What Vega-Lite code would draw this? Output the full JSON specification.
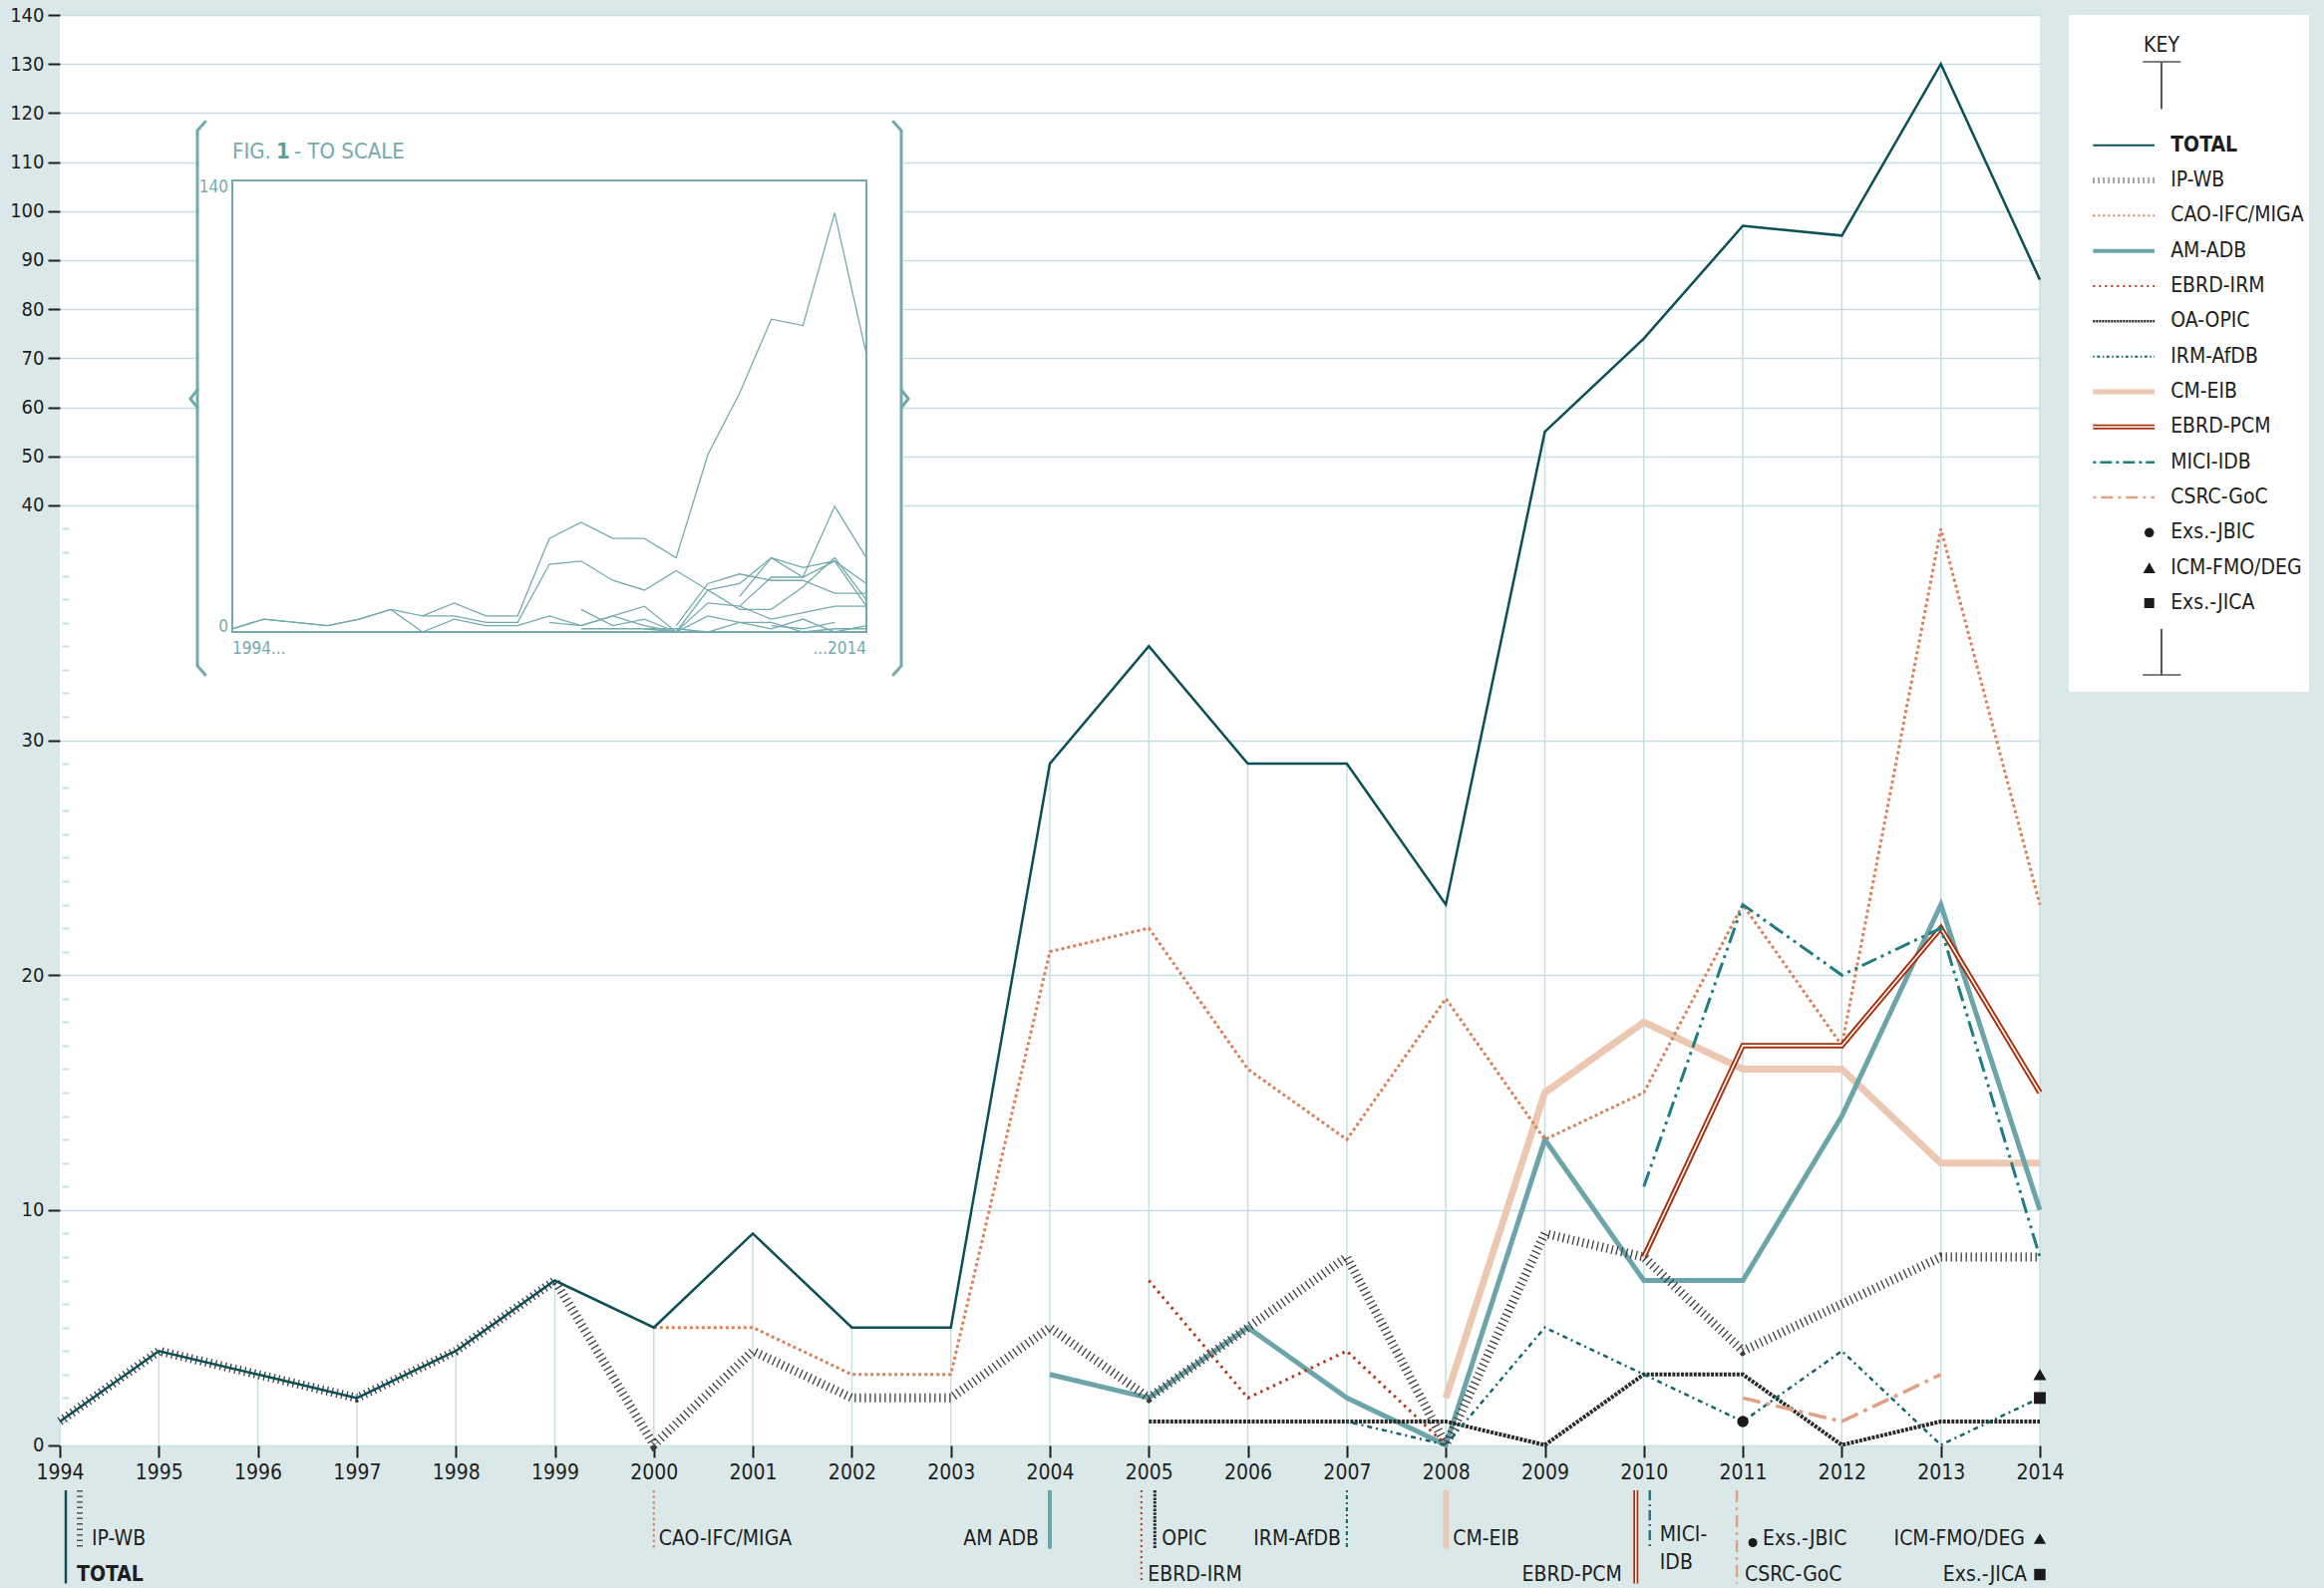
{
  "$schema": "https://vega.github.io/schema/vega-lite/v6.json",
  "width": 1986,
  "height": 1435,
  "autosize": {"type": "none"},
  "padding": {"left": 60, "top": 15, "right": 285, "bottom": 143},
  "background": "#dbe8e9",
  "config": {
    "view": {"fill": "white", "stroke": null},
    "text": {"font": "Liberation Sans Narrow, DejaVu Sans Condensed, Roboto, sans-serif", "color": "#1e1e1e"},
    "axis": {"labelFont": "Liberation Sans Narrow, DejaVu Sans Condensed, Roboto, sans-serif"}
  },
  "data": {"values": [
    {"series": "TOTAL", "year": 1994, "value": 1}, {"series": "TOTAL", "year": 1995, "value": 4}, {"series": "TOTAL", "year": 1996, "value": 3},
    {"series": "TOTAL", "year": 1997, "value": 2}, {"series": "TOTAL", "year": 1998, "value": 4}, {"series": "TOTAL", "year": 1999, "value": 7},
    {"series": "TOTAL", "year": 2000, "value": 5}, {"series": "TOTAL", "year": 2001, "value": 9}, {"series": "TOTAL", "year": 2002, "value": 5},
    {"series": "TOTAL", "year": 2003, "value": 5}, {"series": "TOTAL", "year": 2004, "value": 29}, {"series": "TOTAL", "year": 2005, "value": 34},
    {"series": "TOTAL", "year": 2006, "value": 29}, {"series": "TOTAL", "year": 2007, "value": 29}, {"series": "TOTAL", "year": 2008, "value": 23},
    {"series": "TOTAL", "year": 2009, "value": 55}, {"series": "TOTAL", "year": 2010, "value": 74}, {"series": "TOTAL", "year": 2011, "value": 97},
    {"series": "TOTAL", "year": 2012, "value": 95}, {"series": "TOTAL", "year": 2013, "value": 130}, {"series": "TOTAL", "year": 2014, "value": 86},
    {"series": "IP-WB", "year": 1994, "value": 1}, {"series": "IP-WB", "year": 1995, "value": 4}, {"series": "IP-WB", "year": 1996, "value": 3},
    {"series": "IP-WB", "year": 1997, "value": 2}, {"series": "IP-WB", "year": 1998, "value": 4}, {"series": "IP-WB", "year": 1999, "value": 7},
    {"series": "IP-WB", "year": 2000, "value": 0}, {"series": "IP-WB", "year": 2001, "value": 4}, {"series": "IP-WB", "year": 2002, "value": 2},
    {"series": "IP-WB", "year": 2003, "value": 2}, {"series": "IP-WB", "year": 2004, "value": 5}, {"series": "IP-WB", "year": 2005, "value": 2},
    {"series": "IP-WB", "year": 2006, "value": 5}, {"series": "IP-WB", "year": 2007, "value": 8}, {"series": "IP-WB", "year": 2008, "value": 0},
    {"series": "IP-WB", "year": 2009, "value": 9}, {"series": "IP-WB", "year": 2010, "value": 8}, {"series": "IP-WB", "year": 2011, "value": 4},
    {"series": "IP-WB", "year": 2012, "value": 6}, {"series": "IP-WB", "year": 2013, "value": 8}, {"series": "IP-WB", "year": 2014, "value": 8},
    {"series": "CAO-IFC/MIGA", "year": 2000, "value": 5}, {"series": "CAO-IFC/MIGA", "year": 2001, "value": 5}, {"series": "CAO-IFC/MIGA", "year": 2002, "value": 3},
    {"series": "CAO-IFC/MIGA", "year": 2003, "value": 3}, {"series": "CAO-IFC/MIGA", "year": 2004, "value": 21}, {"series": "CAO-IFC/MIGA", "year": 2005, "value": 22},
    {"series": "CAO-IFC/MIGA", "year": 2006, "value": 16}, {"series": "CAO-IFC/MIGA", "year": 2007, "value": 13}, {"series": "CAO-IFC/MIGA", "year": 2008, "value": 19},
    {"series": "CAO-IFC/MIGA", "year": 2009, "value": 13}, {"series": "CAO-IFC/MIGA", "year": 2010, "value": 15}, {"series": "CAO-IFC/MIGA", "year": 2011, "value": 23},
    {"series": "CAO-IFC/MIGA", "year": 2012, "value": 17}, {"series": "CAO-IFC/MIGA", "year": 2013, "value": 39}, {"series": "CAO-IFC/MIGA", "year": 2014, "value": 23},
    {"series": "AM-ADB", "year": 2004, "value": 3}, {"series": "AM-ADB", "year": 2005, "value": 2}, {"series": "AM-ADB", "year": 2006, "value": 5},
    {"series": "AM-ADB", "year": 2007, "value": 2}, {"series": "AM-ADB", "year": 2008, "value": 0}, {"series": "AM-ADB", "year": 2009, "value": 13},
    {"series": "AM-ADB", "year": 2010, "value": 7}, {"series": "AM-ADB", "year": 2011, "value": 7}, {"series": "AM-ADB", "year": 2012, "value": 14},
    {"series": "AM-ADB", "year": 2013, "value": 23}, {"series": "AM-ADB", "year": 2014, "value": 10},
    {"series": "EBRD-IRM", "year": 2005, "value": 7}, {"series": "EBRD-IRM", "year": 2006, "value": 2}, {"series": "EBRD-IRM", "year": 2007, "value": 4},
    {"series": "EBRD-IRM", "year": 2008, "value": 0},
    {"series": "OA-OPIC", "year": 2005, "value": 1}, {"series": "OA-OPIC", "year": 2006, "value": 1}, {"series": "OA-OPIC", "year": 2007, "value": 1},
    {"series": "OA-OPIC", "year": 2008, "value": 1}, {"series": "OA-OPIC", "year": 2009, "value": 0}, {"series": "OA-OPIC", "year": 2010, "value": 3},
    {"series": "OA-OPIC", "year": 2011, "value": 3}, {"series": "OA-OPIC", "year": 2012, "value": 0}, {"series": "OA-OPIC", "year": 2013, "value": 1},
    {"series": "OA-OPIC", "year": 2014, "value": 1},
    {"series": "IRM-AfDB", "year": 2007, "value": 1}, {"series": "IRM-AfDB", "year": 2008, "value": 0}, {"series": "IRM-AfDB", "year": 2009, "value": 5},
    {"series": "IRM-AfDB", "year": 2010, "value": 3}, {"series": "IRM-AfDB", "year": 2011, "value": 1}, {"series": "IRM-AfDB", "year": 2012, "value": 4},
    {"series": "IRM-AfDB", "year": 2013, "value": 0}, {"series": "IRM-AfDB", "year": 2014, "value": 2},
    {"series": "CM-EIB", "year": 2008, "value": 2}, {"series": "CM-EIB", "year": 2009, "value": 15}, {"series": "CM-EIB", "year": 2010, "value": 18},
    {"series": "CM-EIB", "year": 2011, "value": 16}, {"series": "CM-EIB", "year": 2012, "value": 16}, {"series": "CM-EIB", "year": 2013, "value": 12},
    {"series": "CM-EIB", "year": 2014, "value": 12},
    {"series": "EBRD-PCM", "year": 2010, "value": 8}, {"series": "EBRD-PCM", "year": 2011, "value": 17}, {"series": "EBRD-PCM", "year": 2012, "value": 17},
    {"series": "EBRD-PCM", "year": 2013, "value": 22}, {"series": "EBRD-PCM", "year": 2014, "value": 15},
    {"series": "MICI-IDB", "year": 2010, "value": 11}, {"series": "MICI-IDB", "year": 2011, "value": 23}, {"series": "MICI-IDB", "year": 2012, "value": 20},
    {"series": "MICI-IDB", "year": 2013, "value": 22}, {"series": "MICI-IDB", "year": 2014, "value": 8},
    {"series": "CSRC-GoC", "year": 2011, "value": 2}, {"series": "CSRC-GoC", "year": 2012, "value": 1}, {"series": "CSRC-GoC", "year": 2013, "value": 3},
    {"series": "Exs.-JBIC", "year": 2011, "value": 1},
    {"series": "ICM-FMO/DEG", "year": 2014, "value": 3},
    {"series": "Exs.-JICA", "year": 2014, "value": 2}
  ]},
  "resolve": {"scale": {"x": "independent", "y": "independent"}},
  "layer": [
    {
      "encoding": {
        "x": {"field": "year", "type": "quantitative",
          "scale": {"domain": [1994, 2014], "nice": false, "zero": false},
          "axis": {"orient": "bottom", "values": [1994,1995,1996,1997,1998,1999,2000,2001,2002,2003,2004,2005,2006,2007,2008,2009,2010,2011,2012,2013,2014],
            "format": "d", "title": null, "domain": false, "grid": false, "tickSize": 12, "tickWidth": 2, "tickColor": "#1e1e1e",
            "labelFontSize": 21, "labelColor": "#1e1e1e", "labelPadding": 4, "labelFlush": false, "labelOverlap": false}},
        "y": {"field": "value", "type": "quantitative",
          "scale": {"domain": [0, 40, 140], "range": [1434.5, 491.9, 0], "nice": false, "zero": false},
          "axis": {"orient": "left", "values": [0,10,20,30,40,50,60,70,80,90,100,110,120,130,140], "title": null, "domain": false,
            "grid": true, "gridColor": "#c7dfe2", "gridWidth": 1.5, "tickSize": 12, "tickWidth": 2, "tickColor": "#1e1e1e",
            "labelFontSize": 20, "labelColor": "#1e1e1e", "labelPadding": 4, "labelOverlap": false}}
      },
      "layer": [
        {"transform": [{"filter": "datum.series==='TOTAL'"}], "mark": {"type": "rule", "color": "#c7dfe2", "strokeWidth": 1.5},
         "encoding": {"y": {"datum": 0}, "y2": {"field": "value"}}},
        {"transform": [{"filter": "datum.series==='CM-EIB'"}], "mark": {"type": "line", "color": "#ecc8b2", "strokeWidth": 7}, "encoding": {}},
        {"transform": [{"filter": "datum.series==='AM-ADB'"}], "mark": {"type": "line", "color": "#6ba4a9", "strokeWidth": 5}, "encoding": {}},
        {"transform": [{"filter": "datum.series==='IP-WB'"}], "mark": {"type": "line", "color": "#3d3d3d", "strokeWidth": 9, "strokeDash": [1.3, 3.7]}, "encoding": {}},
        {"transform": [{"filter": "datum.series==='CAO-IFC/MIGA'"}], "mark": {"type": "line", "color": "#d9825a", "strokeWidth": 3, "strokeDash": [3, 3]}, "encoding": {}},
        {"transform": [{"filter": "datum.series==='EBRD-IRM'"}], "mark": {"type": "line", "color": "#b0381a", "strokeWidth": 3, "strokeDash": [2.5, 4.5]}, "encoding": {}},
        {"transform": [{"filter": "datum.series==='OA-OPIC'"}], "mark": {"type": "line", "color": "#2a2a2a", "strokeWidth": 4, "strokeDash": [3, 1.3]}, "encoding": {}},
        {"transform": [{"filter": "datum.series==='IRM-AfDB'"}], "mark": {"type": "line", "color": "#11646a", "strokeWidth": 2.5, "strokeDash": [2, 4, 5, 4]}, "encoding": {}},
        {"transform": [{"filter": "datum.series==='EBRD-PCM'"}], "mark": {"type": "line", "color": "#a8320f", "strokeWidth": 5.5}, "encoding": {}},
        {"transform": [{"filter": "datum.series==='EBRD-PCM'"}], "mark": {"type": "line", "color": "#ffffff", "strokeWidth": 1.6}, "encoding": {}},
        {"transform": [{"filter": "datum.series==='MICI-IDB'"}], "mark": {"type": "line", "color": "#1f7c80", "strokeWidth": 3, "strokeDash": [16, 5, 3, 5, 3, 5]}, "encoding": {}},
        {"transform": [{"filter": "datum.series==='CSRC-GoC'"}], "mark": {"type": "line", "color": "#e0a284", "strokeWidth": 3.5, "strokeDash": [18, 6, 4, 6]}, "encoding": {}},
        {"transform": [{"filter": "datum.series==='TOTAL'"}], "mark": {"type": "line", "color": "#0b4f57", "strokeWidth": 2.5}, "encoding": {}},
        {"transform": [{"filter": "datum.series==='Exs.-JBIC'"}], "mark": {"type": "point", "shape": "circle", "filled": true, "opacity": 1, "color": "#1a1a1a", "size": 130}},
        {"transform": [{"filter": "datum.series==='ICM-FMO/DEG'"}], "mark": {"type": "point", "shape": "triangle-up", "filled": true, "opacity": 1, "color": "#1a1a1a", "size": 170}},
        {"transform": [{"filter": "datum.series==='Exs.-JICA'"}], "mark": {"type": "point", "shape": "square", "filled": true, "opacity": 1, "color": "#1a1a1a", "size": 140}},

        {"transform": [{"filter": "datum.series==='TOTAL' && datum.year===1994"}], "mark": {"type": "rule", "color": "#0b4f57", "strokeWidth": 2.5, "xOffset": 6, "yOffset": 45.5, "y2Offset": 139}, "encoding": {"y": {"datum": 0}, "y2": {"datum": 0}}},
        {"transform": [{"filter": "datum.series==='IP-WB' && datum.year===1994"}], "mark": {"type": "rule", "color": "#555555", "strokeWidth": 6, "strokeDash": [1.5, 4], "xOffset": 20, "yOffset": 45.5, "y2Offset": 104}, "encoding": {"y": {"datum": 0}, "y2": {"datum": 0}}},
        {"transform": [{"filter": "datum.series==='CAO-IFC/MIGA' && datum.year===2000"}], "mark": {"type": "rule", "color": "#d9825a", "strokeWidth": 2, "strokeDash": [2.5, 3], "xOffset": 0, "yOffset": 45.5, "y2Offset": 104}, "encoding": {"y": {"datum": 0}, "y2": {"datum": 0}}},
        {"transform": [{"filter": "datum.series==='AM-ADB' && datum.year===2004"}], "mark": {"type": "rule", "color": "#6ba4a9", "strokeWidth": 4, "xOffset": 0, "yOffset": 45.5, "y2Offset": 104}, "encoding": {"y": {"datum": 0}, "y2": {"datum": 0}}},
        {"transform": [{"filter": "datum.series==='EBRD-IRM' && datum.year===2005"}], "mark": {"type": "rule", "color": "#b0381a", "strokeWidth": 2, "strokeDash": [2, 3.5], "xOffset": -7.5, "yOffset": 45.5, "y2Offset": 139}, "encoding": {"y": {"datum": 0}, "y2": {"datum": 0}}},
        {"transform": [{"filter": "datum.series==='OA-OPIC' && datum.year===2005"}], "mark": {"type": "rule", "color": "#2a2a2a", "strokeWidth": 3, "strokeDash": [2.5, 1.2], "xOffset": 6, "yOffset": 45.5, "y2Offset": 104}, "encoding": {"y": {"datum": 0}, "y2": {"datum": 0}}},
        {"transform": [{"filter": "datum.series==='IRM-AfDB' && datum.year===2007"}], "mark": {"type": "rule", "color": "#11646a", "strokeWidth": 2, "strokeDash": [2, 3, 4, 3], "xOffset": 0, "yOffset": 45.5, "y2Offset": 104}, "encoding": {"y": {"datum": 0}, "y2": {"datum": 0}}},
        {"transform": [{"filter": "datum.series==='CM-EIB' && datum.year===2008"}], "mark": {"type": "rule", "color": "#ecc8b2", "strokeWidth": 6, "xOffset": 0, "yOffset": 45.5, "y2Offset": 104}, "encoding": {"y": {"datum": 0}, "y2": {"datum": 0}}},
        {"transform": [{"filter": "datum.series==='EBRD-PCM' && datum.year===2010"}], "mark": {"type": "rule", "color": "#a8320f", "strokeWidth": 5, "xOffset": -8, "yOffset": 45.5, "y2Offset": 139}, "encoding": {"y": {"datum": 0}, "y2": {"datum": 0}}},
        {"transform": [{"filter": "datum.series==='EBRD-PCM' && datum.year===2010"}], "mark": {"type": "rule", "color": "#ffffff", "strokeWidth": 1.5, "xOffset": -8, "yOffset": 45.5, "y2Offset": 139}, "encoding": {"y": {"datum": 0}, "y2": {"datum": 0}}},
        {"transform": [{"filter": "datum.series==='MICI-IDB' && datum.year===2010"}], "mark": {"type": "rule", "color": "#1f7c80", "strokeWidth": 2.5, "strokeDash": [10, 4, 2, 4], "xOffset": 6, "yOffset": 45.5, "y2Offset": 104}, "encoding": {"y": {"datum": 0}, "y2": {"datum": 0}}},
        {"transform": [{"filter": "datum.series==='CSRC-GoC' && datum.year===2011"}], "mark": {"type": "rule", "color": "#e0a284", "strokeWidth": 2.5, "strokeDash": [12, 5, 3, 5], "xOffset": -6, "yOffset": 45.5, "y2Offset": 139}, "encoding": {"y": {"datum": 0}, "y2": {"datum": 0}}},

        {"transform": [{"filter": "datum.series==='IP-WB' && datum.year===1994"}], "mark": {"type": "text", "text": "IP-WB", "align": "left", "baseline": "middle", "fontSize": 21, "xOffset": 32, "yOffset": 94.5}, "encoding": {"y": {"datum": 0}}},
        {"transform": [{"filter": "datum.series==='TOTAL' && datum.year===1994"}], "mark": {"type": "text", "text": "TOTAL", "align": "left", "baseline": "middle", "fontSize": 21, "fontWeight": "bold", "xOffset": 17, "yOffset": 130.5}, "encoding": {"y": {"datum": 0}}},
        {"transform": [{"filter": "datum.series==='CAO-IFC/MIGA' && datum.year===2000"}], "mark": {"type": "text", "text": "CAO-IFC/MIGA", "align": "left", "baseline": "middle", "fontSize": 21, "xOffset": 5, "yOffset": 94.5}, "encoding": {"y": {"datum": 0}}},
        {"transform": [{"filter": "datum.series==='AM-ADB' && datum.year===2004"}], "mark": {"type": "text", "text": "AM ADB", "align": "right", "baseline": "middle", "fontSize": 21, "xOffset": -11, "yOffset": 94.5}, "encoding": {"y": {"datum": 0}}},
        {"transform": [{"filter": "datum.series==='OA-OPIC' && datum.year===2005"}], "mark": {"type": "text", "text": "OPIC", "align": "left", "baseline": "middle", "fontSize": 21, "xOffset": 13, "yOffset": 94.5}, "encoding": {"y": {"datum": 0}}},
        {"transform": [{"filter": "datum.series==='EBRD-IRM' && datum.year===2005"}], "mark": {"type": "text", "text": "EBRD-IRM", "align": "left", "baseline": "middle", "fontSize": 21, "xOffset": -1, "yOffset": 130.5}, "encoding": {"y": {"datum": 0}}},
        {"transform": [{"filter": "datum.series==='IRM-AfDB' && datum.year===2007"}], "mark": {"type": "text", "text": "IRM-AfDB", "align": "right", "baseline": "middle", "fontSize": 21, "xOffset": -6, "yOffset": 94.5}, "encoding": {"y": {"datum": 0}}},
        {"transform": [{"filter": "datum.series==='CM-EIB' && datum.year===2008"}], "mark": {"type": "text", "text": "CM-EIB", "align": "left", "baseline": "middle", "fontSize": 21, "xOffset": 7, "yOffset": 94.5}, "encoding": {"y": {"datum": 0}}},
        {"transform": [{"filter": "datum.series==='EBRD-PCM' && datum.year===2010"}], "mark": {"type": "text", "text": "EBRD-PCM", "align": "right", "baseline": "middle", "fontSize": 21, "xOffset": -22, "yOffset": 130.5}, "encoding": {"y": {"datum": 0}}},
        {"transform": [{"filter": "datum.series==='MICI-IDB' && datum.year===2010"}], "mark": {"type": "text", "text": "MICI-", "align": "left", "baseline": "middle", "fontSize": 21, "xOffset": 16, "yOffset": 90.5}, "encoding": {"y": {"datum": 0}}},
        {"transform": [{"filter": "datum.series==='MICI-IDB' && datum.year===2010"}], "mark": {"type": "text", "text": "IDB", "align": "left", "baseline": "middle", "fontSize": 21, "xOffset": 16, "yOffset": 118.5}, "encoding": {"y": {"datum": 0}}},
        {"transform": [{"filter": "datum.series==='CSRC-GoC' && datum.year===2011"}], "mark": {"type": "text", "text": "CSRC-GoC", "align": "left", "baseline": "middle", "fontSize": 21, "xOffset": 2, "yOffset": 130.5}, "encoding": {"y": {"datum": 0}}},
        {"transform": [{"filter": "datum.series==='Exs.-JBIC'"}], "mark": {"type": "text", "text": "Exs.-JBIC", "align": "left", "baseline": "middle", "fontSize": 21, "xOffset": 20, "yOffset": 94.5}, "encoding": {"y": {"datum": 0}}},
        {"transform": [{"filter": "datum.series==='Exs.-JBIC'"}], "mark": {"type": "point", "shape": "circle", "filled": true, "opacity": 1, "color": "#1a1a1a", "size": 80, "xOffset": 10, "yOffset": 98}, "encoding": {"y": {"datum": 0}}},
        {"transform": [{"filter": "datum.series==='ICM-FMO/DEG'"}], "mark": {"type": "text", "text": "ICM-FMO/DEG", "align": "right", "baseline": "middle", "fontSize": 21, "xOffset": -15, "yOffset": 94.5}, "encoding": {"y": {"datum": 0}}},
        {"transform": [{"filter": "datum.series==='ICM-FMO/DEG'"}], "mark": {"type": "point", "shape": "triangle-up", "filled": true, "opacity": 1, "color": "#1a1a1a", "size": 150, "xOffset": 0, "yOffset": 94}, "encoding": {"y": {"datum": 0}}},
        {"transform": [{"filter": "datum.series==='Exs.-JICA'"}], "mark": {"type": "text", "text": "Exs.-JICA", "align": "right", "baseline": "middle", "fontSize": 21, "xOffset": -13, "yOffset": 130.5}, "encoding": {"y": {"datum": 0}}},
        {"transform": [{"filter": "datum.series==='Exs.-JICA'"}], "mark": {"type": "point", "shape": "square", "filled": true, "opacity": 1, "color": "#1a1a1a", "size": 130, "xOffset": 0, "yOffset": 130}, "encoding": {"y": {"datum": 0}}}
      ]
    },
    {
      "encoding": {
        "x": {"field": "year", "type": "quantitative", "scale": {"domain": [1994, 2014], "range": [173, 809], "nice": false, "zero": false}, "axis": null},
        "y": {"field": "value", "type": "quantitative", "scale": {"domain": [0, 140], "range": [619, 166], "nice": false, "zero": false}, "axis": null}
      },
      "layer": [
        {
          "transform": [{"filter": "datum.series==='TOTAL' && datum.year===1994"}],
          "layer": [
            {"mark": {"type": "rect", "fill": "white", "xOffset": -36, "x2Offset": 37, "yOffset": -59, "y2Offset": 43},
             "encoding": {"x": {"datum": 1994}, "x2": {"datum": 2014}, "y": {"datum": 140}, "y2": {"datum": 0}}},
            {"mark": {"type": "rect", "fillOpacity": 0, "stroke": "#74aaae", "strokeWidth": 2},
             "encoding": {"x": {"datum": 1994}, "x2": {"datum": 2014}, "y": {"datum": 140}, "y2": {"datum": 0}}}
          ]
        },
        {"transform": [{"filter": "datum.series!=='Exs.-JBIC' && datum.series!=='ICM-FMO/DEG' && datum.series!=='Exs.-JICA'"}],
         "mark": {"type": "line", "color": "#74aaae", "strokeWidth": 1.3}, "encoding": {"detail": {"field": "series"}}},
        {
          "transform": [{"filter": "datum.series==='TOTAL' && datum.year===1994"}],
          "layer": [
            {"mark": {"type": "text", "text": "FIG.", "align": "left", "baseline": "middle", "fontSize": 22, "color": "#74aaae", "yOffset": -29}, "encoding": {"x": {"datum": 1994}, "y": {"datum": 140}}},
            {"mark": {"type": "text", "text": "1", "align": "left", "baseline": "middle", "fontSize": 22, "fontWeight": "bold", "color": "#5f9ca1", "xOffset": 44, "yOffset": -29}, "encoding": {"x": {"datum": 1994}, "y": {"datum": 140}}},
            {"mark": {"type": "text", "text": "- TO SCALE", "align": "left", "baseline": "middle", "fontSize": 22, "color": "#74aaae", "xOffset": 62, "yOffset": -29}, "encoding": {"x": {"datum": 1994}, "y": {"datum": 140}}},
            {"mark": {"type": "text", "text": "140", "align": "right", "baseline": "middle", "fontSize": 17, "color": "#74aaae", "xOffset": -4, "yOffset": 7}, "encoding": {"x": {"datum": 1994}, "y": {"datum": 140}}},
            {"mark": {"type": "text", "text": "0", "align": "right", "baseline": "middle", "fontSize": 17, "color": "#74aaae", "xOffset": -4, "yOffset": -5}, "encoding": {"x": {"datum": 1994}, "y": {"datum": 0}}},
            {"mark": {"type": "text", "text": "1994...", "align": "left", "baseline": "middle", "fontSize": 17, "color": "#74aaae", "yOffset": 17}, "encoding": {"x": {"datum": 1994}, "y": {"datum": 0}}},
            {"mark": {"type": "text", "text": "...2014", "align": "right", "baseline": "middle", "fontSize": 17, "color": "#74aaae", "yOffset": 17}, "encoding": {"x": {"datum": 2014}, "y": {"datum": 0}}},
            {"mark": {"type": "rule", "color": "#74aaae", "strokeWidth": 3, "xOffset": -35, "x2Offset": -35, "yOffset": -50, "y2Offset": 34}, "encoding": {"x": {"datum": 1994}, "x2": {"datum": 1994}, "y": {"datum": 140}, "y2": {"datum": 0}}},
            {"mark": {"type": "rule", "color": "#74aaae", "strokeWidth": 3, "strokeCap": "round", "xOffset": -35, "x2Offset": -27, "yOffset": -50, "y2Offset": -59}, "encoding": {"x": {"datum": 1994}, "x2": {"datum": 1994}, "y": {"datum": 140}, "y2": {"datum": 140}}},
            {"mark": {"type": "rule", "color": "#74aaae", "strokeWidth": 3, "strokeCap": "round", "xOffset": -35, "x2Offset": -27, "yOffset": 34, "y2Offset": 43}, "encoding": {"x": {"datum": 1994}, "x2": {"datum": 1994}, "y": {"datum": 0}, "y2": {"datum": 0}}},
            {"mark": {"type": "rule", "color": "#74aaae", "strokeWidth": 3, "strokeCap": "round", "xOffset": -35, "x2Offset": -42, "yOffset": 210, "y2Offset": 219}, "encoding": {"x": {"datum": 1994}, "x2": {"datum": 1994}, "y": {"datum": 140}, "y2": {"datum": 140}}},
            {"mark": {"type": "rule", "color": "#74aaae", "strokeWidth": 3, "strokeCap": "round", "xOffset": -42, "x2Offset": -35, "yOffset": 219, "y2Offset": 228}, "encoding": {"x": {"datum": 1994}, "x2": {"datum": 1994}, "y": {"datum": 140}, "y2": {"datum": 140}}},
            {"mark": {"type": "rule", "color": "#74aaae", "strokeWidth": 3, "xOffset": 35, "x2Offset": 35, "yOffset": -50, "y2Offset": 34}, "encoding": {"x": {"datum": 2014}, "x2": {"datum": 2014}, "y": {"datum": 140}, "y2": {"datum": 0}}},
            {"mark": {"type": "rule", "color": "#74aaae", "strokeWidth": 3, "strokeCap": "round", "xOffset": 35, "x2Offset": 27, "yOffset": -50, "y2Offset": -59}, "encoding": {"x": {"datum": 2014}, "x2": {"datum": 2014}, "y": {"datum": 140}, "y2": {"datum": 140}}},
            {"mark": {"type": "rule", "color": "#74aaae", "strokeWidth": 3, "strokeCap": "round", "xOffset": 35, "x2Offset": 27, "yOffset": 34, "y2Offset": 43}, "encoding": {"x": {"datum": 2014}, "x2": {"datum": 2014}, "y": {"datum": 0}, "y2": {"datum": 0}}},
            {"mark": {"type": "rule", "color": "#74aaae", "strokeWidth": 3, "strokeCap": "round", "xOffset": 35, "x2Offset": 42, "yOffset": 210, "y2Offset": 219}, "encoding": {"x": {"datum": 2014}, "x2": {"datum": 2014}, "y": {"datum": 140}, "y2": {"datum": 140}}},
            {"mark": {"type": "rule", "color": "#74aaae", "strokeWidth": 3, "strokeCap": "round", "xOffset": 42, "x2Offset": 35, "yOffset": 219, "y2Offset": 228}, "encoding": {"x": {"datum": 2014}, "x2": {"datum": 2014}, "y": {"datum": 140}, "y2": {"datum": 140}}}
          ]
        }
      ]
    },
    {
      "transform": [{"filter": "datum.series==='TOTAL' && datum.year===1994"}],
      "layer": [
        {"mark": {"type": "rect", "fill": "white"},
         "encoding": {"x": {"datum": 0, "scale": {"domain": [0, 100], "range": [2015, 2256], "nice": false, "zero": false}, "axis": null}, "x2": {"datum": 100},
                      "y": {"datum": 0, "scale": {"domain": [0, 100], "range": [0, 679], "nice": false, "zero": false}, "axis": null}, "y2": {"datum": 100}}},
        {"mark": {"type": "text", "text": "KEY", "align": "center", "baseline": "middle", "fontSize": 21},
         "encoding": {"x": {"datum": 38.6}, "y": {"datum": 4.57}}},
        {"mark": {"type": "rule", "color": "#555555", "strokeWidth": 1.5}, "encoding": {"x": {"datum": 30.8}, "x2": {"datum": 46.6}, "y": {"datum": 6.92}}},
        {"mark": {"type": "rule", "color": "#555555", "strokeWidth": 2}, "encoding": {"x": {"datum": 38.6}, "y": {"datum": 6.92}, "y2": {"datum": 13.9}}},
        {"mark": {"type": "rule", "color": "#555555", "strokeWidth": 2}, "encoding": {"x": {"datum": 38.6}, "y": {"datum": 90.7}, "y2": {"datum": 97.5}}},
        {"mark": {"type": "rule", "color": "#555555", "strokeWidth": 1.5}, "encoding": {"x": {"datum": 30.8}, "x2": {"datum": 46.6}, "y": {"datum": 97.5}}}
      ]
    },
    {
      "transform": [{"aggregate": [{"op": "count", "as": "n"}], "groupby": ["series"]}],
      "encoding": {
        "y": {"field": "series", "type": "nominal", "axis": null,
          "scale": {"type": "point", "padding": 0, "range": [130.7, 590],
            "domain": ["TOTAL", "IP-WB", "CAO-IFC/MIGA", "AM-ADB", "EBRD-IRM", "OA-OPIC", "IRM-AfDB", "CM-EIB", "EBRD-PCM", "MICI-IDB", "CSRC-GoC", "Exs.-JBIC", "ICM-FMO/DEG", "Exs.-JICA"]}}
      },
      "layer": [
        {"transform": [{"filter": "datum.series==='TOTAL'"}], "mark": {"type": "rule", "color": "#0b4f57", "strokeWidth": 2},
         "encoding": {"x": {"datum": 10.1, "scale": {"domain": [0, 100], "range": [2015, 2256], "nice": false, "zero": false}, "axis": null}, "x2": {"datum": 35.7}}},
        {"transform": [{"filter": "datum.series==='IP-WB'"}], "mark": {"type": "rule", "color": "#8a8a8a", "strokeWidth": 6, "strokeDash": [1.5, 3.5]}, "encoding": {"x": {"datum": 10.1}, "x2": {"datum": 35.7}}},
        {"transform": [{"filter": "datum.series==='CAO-IFC/MIGA'"}], "mark": {"type": "rule", "color": "#d9825a", "strokeWidth": 2, "strokeDash": [2, 3]}, "encoding": {"x": {"datum": 10.1}, "x2": {"datum": 35.7}}},
        {"transform": [{"filter": "datum.series==='AM-ADB'"}], "mark": {"type": "rule", "color": "#6ba4a9", "strokeWidth": 4}, "encoding": {"x": {"datum": 10.1}, "x2": {"datum": 35.7}}},
        {"transform": [{"filter": "datum.series==='EBRD-IRM'"}], "mark": {"type": "rule", "color": "#b0381a", "strokeWidth": 2, "strokeDash": [2, 4]}, "encoding": {"x": {"datum": 10.1}, "x2": {"datum": 35.7}}},
        {"transform": [{"filter": "datum.series==='OA-OPIC'"}], "mark": {"type": "rule", "color": "#222222", "strokeWidth": 2.5, "strokeDash": [2, 1]}, "encoding": {"x": {"datum": 10.1}, "x2": {"datum": 35.7}}},
        {"transform": [{"filter": "datum.series==='IRM-AfDB'"}], "mark": {"type": "rule", "color": "#11646a", "strokeWidth": 2, "strokeDash": [1.5, 2.5, 3, 2.5]}, "encoding": {"x": {"datum": 10.1}, "x2": {"datum": 35.7}}},
        {"transform": [{"filter": "datum.series==='CM-EIB'"}], "mark": {"type": "rule", "color": "#ecc8b2", "strokeWidth": 5}, "encoding": {"x": {"datum": 10.1}, "x2": {"datum": 35.7}}},
        {"transform": [{"filter": "datum.series==='EBRD-PCM'"}], "mark": {"type": "rule", "color": "#a8320f", "strokeWidth": 5}, "encoding": {"x": {"datum": 10.1}, "x2": {"datum": 35.7}}},
        {"transform": [{"filter": "datum.series==='EBRD-PCM'"}], "mark": {"type": "rule", "color": "#ffffff", "strokeWidth": 1.5}, "encoding": {"x": {"datum": 10.1}, "x2": {"datum": 35.7}}},
        {"transform": [{"filter": "datum.series==='MICI-IDB'"}], "mark": {"type": "rule", "color": "#1f7c80", "strokeWidth": 2.5, "strokeDash": [3, 4, 12, 4]}, "encoding": {"x": {"datum": 10.1}, "x2": {"datum": 35.7}}},
        {"transform": [{"filter": "datum.series==='CSRC-GoC'"}], "mark": {"type": "rule", "color": "#e0a284", "strokeWidth": 2.5, "strokeDash": [3, 5, 12, 5]}, "encoding": {"x": {"datum": 10.1}, "x2": {"datum": 35.7}}},
        {"transform": [{"filter": "datum.series==='Exs.-JBIC'"}], "mark": {"type": "point", "shape": "circle", "filled": true, "opacity": 1, "color": "#1a1a1a", "size": 90}, "encoding": {"x": {"datum": 33.5}}},
        {"transform": [{"filter": "datum.series==='ICM-FMO/DEG'"}], "mark": {"type": "point", "shape": "triangle-up", "filled": true, "opacity": 1, "color": "#1a1a1a", "size": 150}, "encoding": {"x": {"datum": 33.5}}},
        {"transform": [{"filter": "datum.series==='Exs.-JICA'"}], "mark": {"type": "point", "shape": "square", "filled": true, "opacity": 1, "color": "#1a1a1a", "size": 100}, "encoding": {"x": {"datum": 33.5}}},
        {"transform": [{"filter": "datum.series!=='TOTAL'"}], "mark": {"type": "text", "align": "left", "baseline": "middle", "fontSize": 21},
         "encoding": {"x": {"datum": 42.4}, "text": {"field": "series"}}},
        {"transform": [{"filter": "datum.series==='TOTAL'"}], "mark": {"type": "text", "align": "left", "baseline": "middle", "fontSize": 21, "fontWeight": "bold"},
         "encoding": {"x": {"datum": 42.4}, "text": {"field": "series"}}}
      ]
    },
    {
      "transform": [{"filter": "datum.series==='TOTAL' && datum.year===1994"}],
      "mark": {"type": "rule", "opacity": 0},
      "encoding": {
        "y": {"datum": 0, "scale": {"domain": [0, 40, 140], "range": [1434.5, 491.9, 0], "nice": false, "zero": false},
          "axis": {"orient": "left", "values": [1,2,3,4,5,6,7,8,9,11,12,13,14,15,16,17,18,19,21,22,23,24,25,26,27,28,29,31,32,33,34,35,36,37,38,39],
            "labels": false, "domain": false, "grid": false, "ticks": true, "tickSize": 7, "tickWidth": 2, "tickColor": "#c7dfe2", "offset": -9, "title": null}}
      }
    }
  ]
}
